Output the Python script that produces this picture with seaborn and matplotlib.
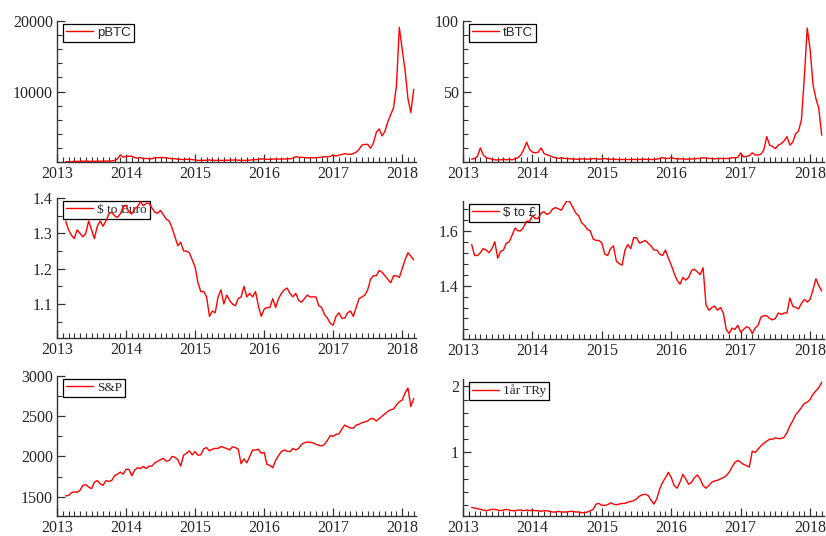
import numpy as np
import matplotlib
matplotlib.use("Agg")
import matplotlib.pyplot as plt
import seaborn as sns
from matplotlib.ticker import MultipleLocator

sns.set_style("ticks")
plt.rcParams['font.family'] = ['Liberation Serif', 'DejaVu Serif']

# half-monthly observation times (decimal years), mid-Feb 2013 .. early Mar 2018
dates = 2013 + np.arange(3, 125) / 24.0

pbtc = [27, 34, 47, 100, 80, 115, 120, 128, 100, 88, 97, 105, 110, 140, 135, 125, 150, 205, 430, 1000, 700,
        770, 820, 820, 620, 560, 620, 470, 520, 450, 450, 630, 600, 640, 620, 590, 500, 480, 470, 390, 380, 330, 390, 380, 330,
        320, 210, 230, 235, 255, 285, 245, 225, 235, 235, 225, 250, 260, 280, 285, 260, 230, 230, 240, 265, 315, 330, 360, 460,
        430, 385, 370, 405, 435, 415, 415, 430, 450, 455, 530, 760, 670, 665, 625, 575, 575, 605, 615, 640, 700, 740, 750, 790,
        1000, 830, 980, 1050, 1200, 1100, 1080, 1190, 1400, 1800, 2400, 2500, 2500, 1950, 2700, 4200, 4700, 3700, 4350, 5700, 6700, 7700, 10800, 19100,
        16000, 13000, 9000, 7000, 10300]

tbtc = [2.0, 2.5, 4, 10, 5, 3, 2.5, 2, 1.5, 1.5, 1.5, 2, 1.5, 2, 1.5, 2.5, 3, 5, 9, 14, 9,
        7, 6.5, 7, 10, 6, 5, 4.5, 3.5, 3, 2.5, 3, 2.5, 2.5, 2.2, 2.2, 2.0, 2.0, 2.2, 2.2, 2.0, 2.0, 2.5, 2.2, 2.0,
        2.2, 2.5, 2.0, 2.0, 2.0, 1.8, 1.8, 1.8, 1.7, 1.8, 1.8, 1.8, 1.8, 1.8, 1.9, 2.0, 1.8, 1.8, 1.8, 2.0, 2.5, 3.0, 2.5, 2.5,
        3.2, 2.5, 2.2, 2.2, 2.2, 2.0, 2.0, 2.2, 2.2, 2.5, 2.5, 3.0, 2.8, 2.5, 2.5, 2.2, 2.5, 2.5, 2.5, 2.5, 2.5, 3.0, 3.0, 3.2,
        6.5, 3.5, 4.0, 4.5, 6.5, 5.0, 5.0, 5.5, 8.5, 18, 12, 11, 9.5, 12, 13, 15, 18, 12, 14, 20, 22, 30, 60, 95,
        80, 55, 45, 38, 19]

usd_eur = [1.335, 1.31, 1.295, 1.285, 1.31, 1.30, 1.29, 1.30, 1.335, 1.31, 1.285, 1.32, 1.335, 1.32, 1.335, 1.355, 1.36, 1.35, 1.345, 1.355, 1.375,
           1.38, 1.36, 1.355, 1.37, 1.375, 1.39, 1.378, 1.385, 1.385, 1.372, 1.36, 1.357, 1.365, 1.352, 1.34, 1.335, 1.315, 1.29, 1.265, 1.275, 1.25, 1.25, 1.245, 1.225,
           1.205, 1.16, 1.135, 1.135, 1.12, 1.065, 1.08, 1.075, 1.12, 1.14, 1.10, 1.125, 1.11, 1.10, 1.095, 1.115, 1.12, 1.15, 1.12, 1.13, 1.12, 1.135, 1.095, 1.065,
           1.085, 1.09, 1.09, 1.115, 1.09, 1.115, 1.13, 1.14, 1.145, 1.13, 1.12, 1.13, 1.11, 1.105, 1.115, 1.125, 1.12, 1.12, 1.12, 1.095, 1.09, 1.07, 1.06, 1.045,
           1.04, 1.065, 1.075, 1.06, 1.06, 1.075, 1.08, 1.065, 1.09, 1.115, 1.12, 1.125, 1.14, 1.17, 1.18, 1.18, 1.195, 1.19, 1.18, 1.17, 1.16, 1.18, 1.18, 1.175,
           1.20, 1.225, 1.245, 1.235, 1.225]

usd_gbp = [1.55, 1.51, 1.51, 1.52, 1.535, 1.53, 1.52, 1.535, 1.56, 1.50, 1.525, 1.53, 1.555, 1.56, 1.585, 1.61, 1.60, 1.60, 1.615, 1.635, 1.635,
           1.655, 1.645, 1.645, 1.665, 1.67, 1.66, 1.665, 1.68, 1.685, 1.68, 1.675, 1.695, 1.71, 1.705, 1.685, 1.665, 1.655, 1.63, 1.62, 1.605, 1.60, 1.57, 1.565, 1.565,
           1.555, 1.515, 1.51, 1.535, 1.545, 1.49, 1.48, 1.475, 1.53, 1.55, 1.535, 1.575, 1.575, 1.555, 1.56, 1.565, 1.555, 1.545, 1.53, 1.53, 1.515, 1.51, 1.53, 1.50,
           1.475, 1.445, 1.42, 1.405, 1.43, 1.42, 1.43, 1.455, 1.46, 1.45, 1.44, 1.465, 1.33, 1.31, 1.32, 1.325, 1.31, 1.32, 1.30, 1.24, 1.225, 1.245, 1.24, 1.255,
           1.23, 1.24, 1.25, 1.245, 1.225, 1.245, 1.255, 1.285, 1.29, 1.29, 1.28, 1.275, 1.28, 1.30, 1.295, 1.30, 1.30, 1.355, 1.325, 1.32, 1.315, 1.335, 1.35, 1.34,
           1.35, 1.385, 1.425, 1.40, 1.38]

sp500 = [1510, 1515, 1550, 1560, 1555, 1580, 1640, 1650, 1620, 1600, 1680, 1700, 1660, 1640, 1700, 1690, 1700, 1760, 1780, 1805, 1780,
         1840, 1840, 1760, 1830, 1860, 1850, 1875, 1850, 1880, 1880, 1920, 1940, 1960, 1975, 1940, 1950, 2000, 1990, 1960, 1880, 2015, 2040, 2070, 2020,
         2060, 2015, 2020, 2095, 2110, 2070, 2090, 2100, 2100, 2125, 2110, 2100, 2080, 2120, 2110, 2090, 1910, 1970, 1920, 2000, 2080, 2080, 2090, 2040,
         2050, 1900, 1890, 1860, 1950, 2010, 2060, 2080, 2065, 2060, 2100, 2080, 2100, 2150, 2170, 2180, 2175, 2170, 2150, 2140, 2130, 2150, 2200, 2260,
         2250, 2275, 2280, 2340, 2390, 2370, 2355, 2350, 2390, 2400, 2420, 2430, 2440, 2470, 2470, 2440, 2470, 2500, 2530, 2560, 2580, 2590, 2640, 2680,
         2700, 2790, 2850, 2620, 2720]

try1y = [0.17, 0.16, 0.15, 0.14, 0.13, 0.12, 0.13, 0.14, 0.14, 0.13, 0.12, 0.13, 0.14, 0.13, 0.12, 0.12, 0.13, 0.13, 0.12, 0.13, 0.12,
         0.13, 0.12, 0.12, 0.11, 0.12, 0.12, 0.11, 0.10, 0.10, 0.11, 0.10, 0.10, 0.10, 0.11, 0.11, 0.10, 0.10, 0.09, 0.09, 0.10, 0.12, 0.14, 0.22, 0.23,
         0.20, 0.20, 0.21, 0.24, 0.22, 0.21, 0.22, 0.23, 0.23, 0.25, 0.26, 0.27, 0.30, 0.34, 0.36, 0.37, 0.35, 0.28, 0.22, 0.30, 0.45, 0.55, 0.62, 0.70,
         0.62, 0.50, 0.46, 0.55, 0.67, 0.60, 0.52, 0.55, 0.62, 0.66, 0.60, 0.50, 0.46, 0.50, 0.55, 0.57, 0.58, 0.60, 0.62, 0.65, 0.70, 0.78, 0.85, 0.88,
         0.85, 0.82, 0.80, 0.78, 1.02, 1.00, 1.05, 1.10, 1.14, 1.17, 1.20, 1.20, 1.22, 1.21, 1.21, 1.23, 1.30, 1.40, 1.48, 1.57, 1.62, 1.68, 1.74, 1.76,
         1.80, 1.88, 1.93, 1.98, 2.06]

labels = ["pBTC", "tBTC", "$ to Euro", "$ to £", "S&P", "1år TRy"]
series = [pbtc, tbtc, usd_eur, usd_gbp, sp500, try1y]
year_ticks = [2013, 2014, 2015, 2016, 2017, 2018]
W, H = 826.0, 536.0

# (left_px, top_px, right_px, bottom_px)
boxes = [(57, 21, 416, 162), (463, 21, 824, 162),
         (57, 198, 416, 338), (463, 201, 824, 339),
         (57, 376, 416, 516), (463, 379, 824, 516)]
ylims = [(0, 20000), (0, 100), (1.0037, 1.4), (1.205, 1.709), (1260, 3000), (0.04, 2.11)]
majors = [10000, 50, 0.1, 0.2, 500, 1]
minors = [5, 5, 2, 5, 2, 5]
yfmt = ["{:.0f}", "{:.0f}", "{:.1f}", "{:.1f}", "{:.0f}", "{:.0f}"]
legfont = ["Liberation Sans", "Liberation Sans", "Liberation Serif", "Liberation Sans", "Liberation Serif", "Liberation Serif"]
yticks_show = [[10000, 20000], [50, 100], [1.1, 1.2, 1.3, 1.4], [1.4, 1.6], [1500, 2000, 2500, 3000], [1, 2]]

fig = plt.figure(figsize=(8.26, 5.36), dpi=100)
for i in range(6):
    l, t, r, b = boxes[i]
    ax = fig.add_axes([l / W, 1 - b / H, (r - l) / W, (b - t) / H])
    sns.lineplot(x=dates, y=series[i], ax=ax, color="#ff0000", linewidth=1.0, label=labels[i], zorder=3)
    ax.set_xlim(2013, 2018.2)
    ax.set_ylim(*ylims[i])
    sns.despine(ax=ax)
    for s in ["left", "bottom"]:
        ax.spines[s].set_linewidth(1.0)
        ax.spines[s].set_color("#333333")
    ax.set_xticks(year_ticks)
    ax.set_xticklabels([str(y) for y in year_ticks])
    ax.xaxis.set_minor_locator(MultipleLocator(1 / 12))
    ax.set_yticks(yticks_show[i])
    ax.set_yticklabels([yfmt[i].format(v) for v in yticks_show[i]])
    ax.yaxis.set_minor_locator(MultipleLocator(majors[i] / minors[i]))
    ax.tick_params(which="major", direction="in", length=6, width=0.9, labelsize=11.5, pad=3, color="#333333")
    ax.tick_params(which="minor", direction="in", length=3.5, width=0.8, color="#333333")
    ax.set_xlabel("")
    ax.set_ylabel("")
    leg = ax.legend(loc="upper left", bbox_to_anchor=(6 / (r - l), 1 - 3 / (b - t)), borderaxespad=0,
                    frameon=True, fancybox=False, framealpha=1, edgecolor="black",
                    prop={"family": legfont[i], "size": 9.5}, handlelength=2.1, handletextpad=0.3,
                    borderpad=0.2)
    leg.get_frame().set_linewidth(0.9)
    leg.set_zorder(1)

fig.savefig("out.png", dpi=100)
